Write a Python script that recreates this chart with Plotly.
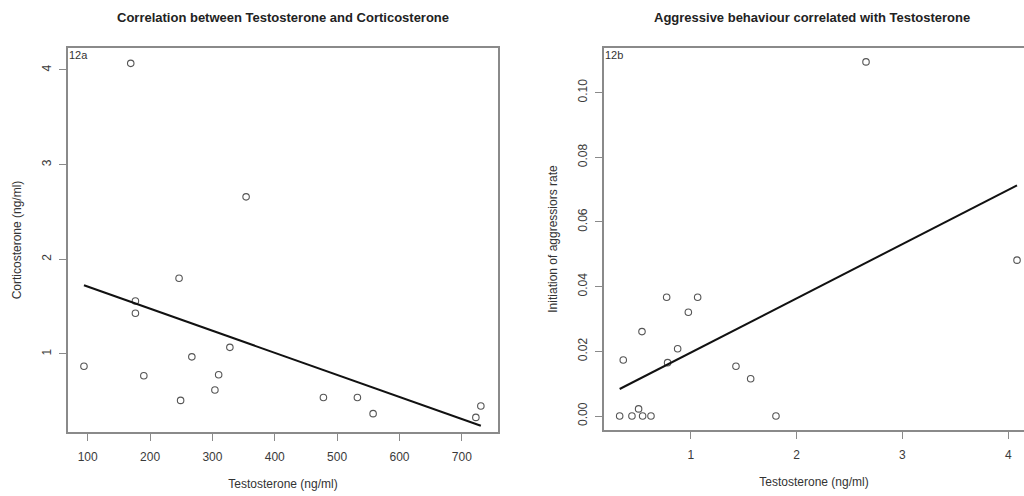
import numpy as np
import plotly.graph_objects as go

W, H = 1024, 496

# ---- Data: panel 12a (Testosterone vs Corticosterone)
testo_a = [169, 354, 246.5, 176.5, 176.5, 94, 190, 267, 328, 310, 304, 249, 478, 532.5, 557.7, 722.5, 730.5]
cort_a = [4.07, 2.66, 1.80, 1.56, 1.43, 0.87, 0.77, 0.97, 1.07, 0.78, 0.62, 0.51, 0.54, 0.54, 0.37, 0.33, 0.45]

# ---- Data: panel 12b (Testosterone vs aggression initiation rate)
testo_b = [2.656, 4.083, 0.328, 0.362, 0.444, 0.507, 0.545, 0.624, 0.539, 0.772, 0.781, 0.876, 0.977, 1.065, 1.427, 1.566, 1.805]
aggr_b = [0.1095, 0.0482, 0.0, 0.0173, 0.0, 0.0022, 0.0, 0.0, 0.0261, 0.0367, 0.0165, 0.0208, 0.0321, 0.0367, 0.0154, 0.0115, 0.0]

xticks_a = [100, 200, 300, 400, 500, 600, 700]
yticks_a = [1, 2, 3, 4]
xticks_b = [1, 2, 3, 4]
yticks_b = [0.00, 0.02, 0.04, 0.06, 0.08, 0.10]

title_a = "Correlation between Testosterone and Corticosterone"
title_b = "Aggressive behaviour correlated with Testosterone"


def fit_line(x, y):
    x = np.asarray(x, float)
    y = np.asarray(y, float)
    m, b = np.polyfit(x, y, 1)
    xs = np.array([x.min(), x.max()])
    return xs, m * xs + b


def px_x(p):
    return p / W


def px_y(p):
    return 1 - p / H


FONT = "Liberation Sans, Arial, sans-serif"

fig = go.Figure()

marker = dict(symbol="circle-open", size=6.5, color="#555555", line=dict(width=1.1, color="#555555"))

fig.add_trace(go.Scatter(x=testo_a, y=cort_a, mode="markers", marker=marker,
                         xaxis="x", yaxis="y", showlegend=False))
fxa, fya = fit_line(testo_a, cort_a)
fig.add_trace(go.Scatter(x=fxa, y=fya, mode="lines", line=dict(color="#111111", width=2),
                         xaxis="x", yaxis="y", showlegend=False))

fig.add_trace(go.Scatter(x=testo_b, y=aggr_b, mode="markers", marker=marker,
                         xaxis="x2", yaxis="y2", showlegend=False))
fxb, fyb = fit_line(testo_b, aggr_b)
fig.add_trace(go.Scatter(x=fxb, y=fyb, mode="lines", line=dict(color="#111111", width=2),
                         xaxis="x2", yaxis="y2", showlegend=False))

axis_line = "#8a8a8a"
tickfont = dict(family=FONT, size=12, color="#3a3a3a")
titlefont = dict(family=FONT, size=12, color="#333333")

common = dict(showgrid=False, zeroline=False, showline=True, linecolor=axis_line, linewidth=1.5,
              ticks="outside", ticklen=7, tickwidth=1.2, tickcolor=axis_line, tickfont=tickfont)

fig.update_layout(
    width=W, height=H,
    margin=dict(l=0, r=0, t=0, b=0),
    paper_bgcolor="white", plot_bgcolor="white",
    xaxis=dict(domain=[px_x(68), px_x(498)], range=[68.4, 758], tickvals=xticks_a,
               mirror=True, anchor="y", ticklabelstandoff=6,
               title=dict(text="Testosterone (ng/ml)", font=titlefont, standoff=16), **common),
    yaxis=dict(domain=[px_y(432), px_y(48)], range=[0.176, 4.232], tickvals=yticks_a,
               tickangle=-90, mirror=True, anchor="x", ticklabelstandoff=3,
               title=dict(text="Corticosterone (ng/ml)", font=titlefont, standoff=16), **common),
    xaxis2=dict(domain=[px_x(604), 1.0], range=[0.18, 4.149], tickvals=xticks_b,
                mirror=True, anchor="y2", ticklabelstandoff=6,
                title=dict(text="Testosterone (ng/ml)", font=titlefont, standoff=16), **common),
    yaxis2=dict(domain=[px_y(430), px_y(48)], range=[-0.00433, 0.1138], tickvals=yticks_b,
                tickformat=".2f", tickangle=-90, mirror=False, anchor="x2", ticklabelstandoff=3,
                title=dict(text="Initiation of aggressiors rate", font=titlefont, standoff=16), **common),
    annotations=[
        dict(text="<b>" + title_a + "</b>", x=px_x(283), y=px_y(18), xref="paper", yref="paper",
             xanchor="center", yanchor="middle", showarrow=False,
             font=dict(family=FONT, size=13, color="#222222")),
        dict(text="<b>" + title_b + "</b>", x=px_x(811.5), y=px_y(18), xref="paper", yref="paper",
             xanchor="center", yanchor="middle", showarrow=False,
             font=dict(family=FONT, size=13, color="#222222")),
        dict(text="12a", x=0, y=1, xref="x domain", yref="y domain", xanchor="left", yanchor="top",
             showarrow=False, xshift=-1, yshift=1,
             font=dict(family=FONT, size=11, color="#333333")),
        dict(text="12b", x=0, y=1, xref="x2 domain", yref="y2 domain", xanchor="left", yanchor="top",
             showarrow=False, xshift=-1, yshift=1,
             font=dict(family=FONT, size=11, color="#333333")),
    ],
)

fig.write_html("out.html")
